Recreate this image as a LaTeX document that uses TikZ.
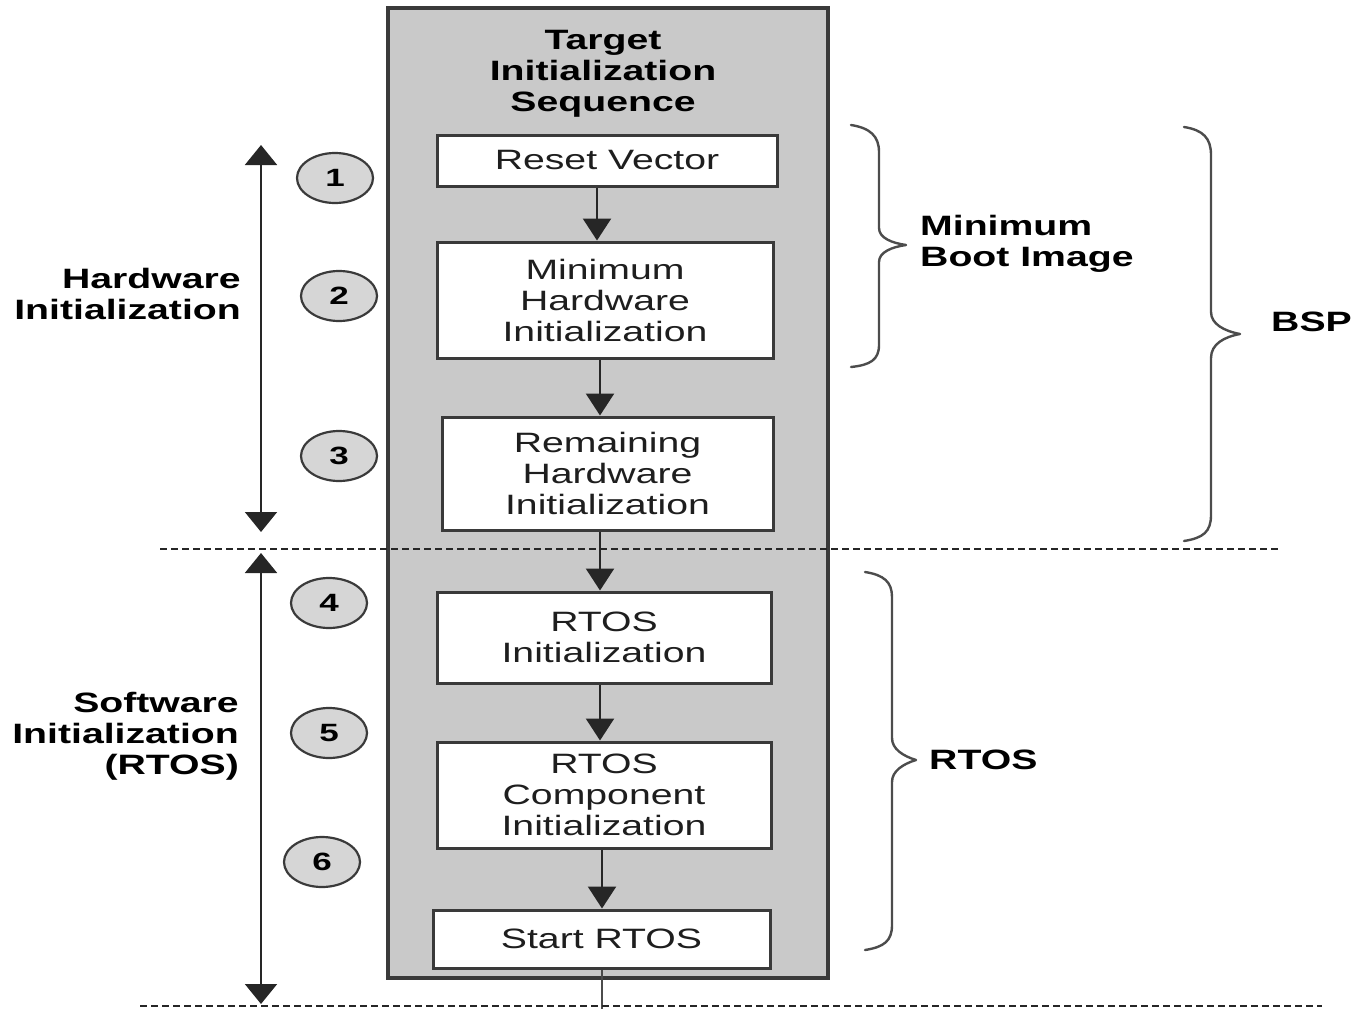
\documentclass[tikz,border=0pt]{standalone}
\usepackage{fontspec}
\setmainfont{Liberation Sans}[FakeStretch=1.4]
\usetikzlibrary{arrows.meta,shapes.geometric}
\definecolor{boxgray}{HTML}{C9C9C9}
\definecolor{edge}{HTML}{3A3A3A}
\definecolor{circfill}{HTML}{D6D6D6}
\definecolor{txt}{HTML}{1E1E1E}
\tikzset{
  stepbox/.style={draw=edge, line width=3pt, fill=white, text=txt, align=center,
    inner sep=0pt, font=\fontsize{28}{31}\selectfont},
  bold/.style={font=\bfseries\fontsize{28}{31}\selectfont, text=black, inner sep=0pt},
  num/.style={ellipse, draw=edge, line width=2.2pt, fill=circfill, minimum width=76pt,
    minimum height=50pt, inner sep=0pt, font=\bfseries\fontsize{25}{28}\selectfont},
  flow/.style={line width=2.5pt, draw=black!85, -{Triangle[width=28pt,length=22pt]}},
  span/.style={line width=2pt, draw=black!85, {Triangle[width=32pt,length=20pt]}-{Triangle[width=32pt,length=20pt]}},
  sep/.style={line width=2.3pt, draw=black!85, dash pattern=on 7pt off 4pt},
  bracestyle/.style={line width=2.4pt, draw=black!70, line cap=round, line join=round},
}
\begin{document}
\begin{tikzpicture}[x=1pt,y=-1pt]
\useasboundingbox (0,0) rectangle (1355,1009);
% gray container
\node[draw=edge, line width=3.5pt, fill=boxgray, minimum width=440pt, minimum height=970pt, inner sep=0pt] (seq) at (608,493) {};
\node[bold, align=center] (title) at (603,74) {Target\\Initialization\\Sequence};
% steps
\node[stepbox, minimum width=340pt, minimum height=51pt] (rv) at (607,160.5) {Reset Vector};
\node[stepbox, minimum width=336pt, minimum height=116pt] (mhw) at (605,300) {Minimum\\Hardware\\Initialization};
\node[stepbox, minimum width=331pt, minimum height=113pt] (rhw) at (607.5,473.5) {Remaining\\Hardware\\Initialization};
\node[stepbox, minimum width=334pt, minimum height=91pt] (ri) at (604,637.5) {RTOS\\Initialization};
\node[stepbox, minimum width=334pt, minimum height=106pt] (rc) at (604,795) {RTOS\\Component\\Initialization};
\node[stepbox, minimum width=337pt, minimum height=58pt] (sr) at (601.5,939) {Start RTOS};
\coordinate (out) at (602,1009);
% flow arrows
\draw[flow] ([xshift=-10pt]rv.south) -- ([xshift=-10pt]rv.south |- mhw.north);
\draw[flow] ([xshift=-5pt]mhw.south) -- ([xshift=-5pt]mhw.south |- rhw.north);
\draw[flow] ([xshift=-7.5pt]rhw.south) -- ([xshift=-7.5pt]rhw.south |- ri.north);
\draw[flow] ([xshift=-4pt]ri.south) -- ([xshift=-4pt]ri.south |- rc.north);
\draw[flow] ([xshift=-2pt]rc.south) -- ([xshift=-2pt]rc.south |- sr.north);
\draw[line width=2.5pt, draw=black!70] (sr.south -| out) -- (out);
% step numbers
\node[num] (n1) at (335,178) {1};
\node[num] (n2) at (339,296) {2};
\node[num] (n3) at (339,456) {3};
\node[num] (n4) at (329,603) {4};
\node[num] (n5) at (329,733) {5};
\node[num] (n6) at (322,862) {6};
% separators
\coordinate (s1a) at (160,549); \coordinate (s1b) at (1280,549);
\coordinate (s2a) at (140,1006); \coordinate (s2b) at (1322,1006);
\draw[sep] (s1a) -- (s1b);
\draw[sep] (s2a) -- (s2b);
% left spans
\coordinate (h1) at (261,145); \coordinate (h2) at (261,532);
\coordinate (w1) at (261,553); \coordinate (w2) at (261,1004);
\draw[span] (h1) -- (h2);
\draw[span] (w1) -- (w2);
\node[bold, align=right, anchor=east] (hwlab) at (241,294) {Hardware\\Initialization};
\node[bold, align=right, anchor=east] (swlab) at (239,736) {Software\\Initialization\\(RTOS)};
% braces
\draw[bracestyle] (851,125) .. controls (870,128) and (879,136) .. (879,152) -- (879,228)
  .. controls (879,238) and (892,243) .. (906,245)
  .. controls (892,247) and (879,252) .. (879,262) -- (879,345)
  .. controls (879,360) and (870,365) .. (851,367);
\node[bold, align=left, anchor=west] (mbi) at (920,244) {Minimum\\Boot Image};
\draw[bracestyle] (1184,127) .. controls (1203,130) and (1211,138) .. (1211,155) -- (1211,312)
  .. controls (1211,324) and (1224,331) .. (1240,334)
  .. controls (1224,337) and (1211,344) .. (1211,358) -- (1211,515)
  .. controls (1211,532) and (1203,538) .. (1184,541);
\node[bold, anchor=west] (bsp) at (1271,322) {BSP};
\draw[bracestyle] (865,572) .. controls (884,575) and (892,582) .. (892,597) -- (892,738)
  .. controls (892,749) and (903,756) .. (916,760)
  .. controls (903,764) and (892,771) .. (892,782) -- (892,925)
  .. controls (892,941) and (884,947) .. (865,950);
\node[bold, anchor=west] (rtos) at (929,760) {RTOS};
\end{tikzpicture}
\end{document}
